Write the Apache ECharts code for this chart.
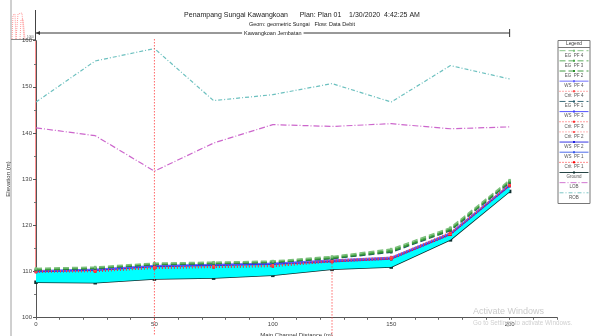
<!DOCTYPE html>
<html>
<head>
<meta charset="utf-8">
<script src="https://cdn.jsdelivr.net/npm/echarts@6/dist/echarts.min.js"></script>
<style>
  html, body { margin: 0; padding: 0; background: #fff; }
  #chart { width: 595px; height: 336px; }
</style>
</head>
<body>
<div id="chart"></div>
<script>
// river stations (main channel distance, m)
var stations = [0, 25, 50, 75, 100, 125, 150, 175, 200];

// elevations (m)
var ground = [107.6, 107.5, 108.3, 108.5, 109.1, 110.4, 110.9, 116.8, 127.3];
var ws1 = [109.85, 110.15, 110.95, 111.2, 111.45, 112.0, 112.6, 117.9, 128.4];
var ws2 = [109.95, 110.25, 111.05, 111.3, 111.55, 112.15, 112.75, 118.05, 128.55];
var ws3 = [110.05, 110.35, 111.15, 111.4, 111.65, 112.3, 112.9, 118.2, 128.7];
var ws4 = [110.15, 110.45, 111.25, 111.5, 111.75, 112.45, 113.05, 118.35, 128.85];
var crit1 = [109.8, 109.9, 110.6, 110.8, 111.0, 112.0, 112.6, 117.9, 128.5];
var crit2 = [109.9, 110.0, 110.7, 110.9, 111.1, 112.15, 112.75, 118.1, 128.65];
var crit3 = [110.0, 110.1, 110.8, 111.0, 111.2, 112.3, 112.9, 118.3, 128.8];
var crit4 = [110.1, 110.2, 110.9, 111.1, 111.3, 112.45, 113.05, 118.5, 128.95];
var eg1 = [110.25, 110.55, 111.4, 111.6, 111.85, 112.7, 114.1, 118.8, 129.2];
var eg2 = [110.35, 110.65, 111.5, 111.7, 111.95, 112.85, 114.3, 119.0, 129.4];
var eg3 = [110.45, 110.75, 111.6, 111.8, 112.05, 113.0, 114.5, 119.2, 129.55];
var eg4 = [110.6, 110.9, 111.75, 111.95, 112.2, 113.2, 114.8, 119.45, 129.75];
var lob = [141.1, 139.4, 131.7, 137.8, 141.8, 141.4, 142.0, 140.9, 141.3];
var rob = [146.7, 155.6, 158.3, 147.0, 148.3, 150.7, 146.7, 154.6, 151.7];

// x positions of the section markers (red verticals)
var bridgeStart = 50;
var bridgeEnd = 125;
var reachLabel = "Kawangkoan Jembatan";

var xLabels = [0, 50, 100, 150, 200];

function pts(arr) {
  return stations.map(function (x, i) { return [x, arr[i]]; });
}

// legend order as in the HEC-RAS plot
var profiles = [
  { name: "EG  PF 4",   data: eg4,   color: "#7cc07c", type: [6, 3], width: 1.5, sym: true },
  { name: "EG  PF 3",   data: eg3,   color: "#4aa64a", type: [6, 3], width: 1.5, sym: true },
  { name: "EG  PF 2",   data: eg2,   color: "#2a8f2a", type: [6, 3], width: 1.5, sym: true },
  { name: "WS  PF 4",   data: ws4,   color: "#6060ff", type: "solid", width: 1, sym: true },
  { name: "Crit  PF 4", data: crit4, color: "#ff4a4a", type: [1, 2], width: 1, sym: true },
  { name: "EG  PF 1",   data: eg1,   color: "#245a6a", type: [6, 3], width: 1.3, sym: true },
  { name: "WS  PF 3",   data: ws3,   color: "#4040ff", type: "solid", width: 1, sym: true },
  { name: "Crit  PF 3", data: crit3, color: "#ff2a2a", type: [1, 2], width: 1, sym: true },
  { name: "Crit  PF 2", data: crit2, color: "#ff6060", type: [1, 2], width: 1, sym: true },
  { name: "WS  PF 2",   data: ws2,   color: "#2020e0", type: "solid", width: 1, sym: true },
  { name: "WS  PF 1",   data: ws1,   color: "#3a5ae8", type: "solid", width: 1, sym: true },
  { name: "Crit  PF 1", data: crit1, color: "#ff0000", type: [1, 2], width: 1, sym: true },
  { name: "Ground",     data: ground, color: "#0d2f2f", type: "solid", width: 1.5, sym: true },
  { name: "LOB",        data: lob,   color: "#cc66cc", type: [6, 2, 1, 2], width: 1.2, sym: false },
  { name: "ROB",        data: rob,   color: "#6cc0bf", type: [4, 2, 1, 2], width: 1.2, sym: false }
];

var chart = echarts.init(document.getElementById("chart"));

var series = [
  // water between ground and the lowest water surface
  {
    type: "custom",
    name: "water",
    data: [[stations[0], ground[0]]],
    silent: true,
    z: 2,
    renderItem: function (params, api) {
      var top = stations.map(function (x, i) { return api.coord([x, ws1[i]]); });
      var bottom = stations.map(function (x, i) { return api.coord([x, ground[i]]); }).reverse();
      return {
        type: "polygon",
        shape: { points: top.concat(bottom) },
        style: { fill: "#00ffff", stroke: null }
      };
    }
  }
];

// lines bottom-up so the energy grade stays on top; ground sits under the water
var drawOrder = [12, 14, 13, 10, 9, 6, 3, 11, 8, 7, 4, 5, 2, 1, 0];
drawOrder.forEach(function (k) {
  var p = profiles[k];
  series.push({
    type: "line",
    name: p.name,
    data: pts(p.data),
    symbol: p.sym ? "rect" : "none",
    symbolSize: p.name === "Ground" ? 3.5 : 2.5,
    showSymbol: p.sym,
    itemStyle: { color: p.color },
    lineStyle: { color: p.color, type: p.type, width: p.width },
    z: p.name === "Ground" ? 1 : 3
  });
});

var labelStyle = { fontSize: 6, color: "#444" };

var option = {
  animation: false,
  textStyle: { fontFamily: "Liberation Sans" },
  grid: { left: 36, right: 38, top: 40.7, bottom: 18.7, outerBoundsMode: "none", containLabel: false },
  xAxis: {
    type: "value", min: 0, max: 220, interval: 10,
    name: "Main Channel Distance (m)", nameLocation: "middle", nameGap: 9,
    nameTextStyle: { fontSize: 6, color: "#333" },
    axisLine: { lineStyle: { color: "#555", width: 1 } },
    axisTick: { length: 2.5, lineStyle: { color: "#666" } },
    axisLabel: Object.assign({ customValues: xLabels, margin: 4 }, labelStyle),
    splitLine: { show: false }
  },
  yAxis: {
    type: "value", min: 100, max: 160, interval: 10,
    name: "Elevation (m)", nameLocation: "middle", nameGap: 19,
    nameTextStyle: { fontSize: 6, color: "#333" },
    axisLine: { show: true, lineStyle: { color: "#555", width: 1 } },
    axisTick: { show: true, length: 3, lineStyle: { color: "#555" } },
    minorTick: { show: true, splitNumber: 2, length: 2, lineStyle: { color: "#777" } },
    axisLabel: Object.assign({ margin: 4 }, labelStyle),
    splitLine: { show: false }
  },
  title: [
    {
      text: "Penampang Sungai Kawangkoan      Plan: Plan 01    1/30/2020  4:42:25 AM",
      left: 302, top: 12, textAlign: "center", padding: 0,
      textStyle: { fontSize: 7, fontWeight: "normal", color: "#222" }
    },
    {
      text: "Geom: geometric Sungai   Flow: Data Debit",
      left: 302, top: 21.5, textAlign: "center", padding: 0,
      textStyle: { fontSize: 5.5, fontWeight: "normal", color: "#222" }
    }
  ],
  series: series
};

chart.setOption(option);

// decorations placed through the chart's own scale
function px(x, y) { return chart.convertToPixel({ xAxisIndex: 0, yAxisIndex: 0 }, [x, y]); }

var g = [];
var pTop0 = px(0, 160), pTop200 = px(200, 160);
var xB1 = px(bridgeStart, 160)[0], xB2 = px(bridgeEnd, 160)[0];
var labelX = px(100, 160)[0];

// window edge
g.push({ type: "line", shape: { x1: 11, y1: 0, x2: 11, y2: 336 }, style: { stroke: "#a0a0a0", lineWidth: 1 } });

// thumbnail of the cross section, top-left
g.push({ type: "line", shape: { x1: 11, y1: 39.5, x2: 36, y2: 39.5 }, style: { stroke: "#888", lineWidth: 1 } });
g.push({ type: "line", shape: { x1: 35.5, y1: 10, x2: 35.5, y2: 40 }, style: { stroke: "#444", lineWidth: 1 } });
g.push({ type: "polyline", shape: { points: [[12, 39], [13, 15], [15, 14], [16, 39]] }, style: { stroke: "#ff8080", lineWidth: 0.8, lineDash: [1, 1], fill: null } });
g.push({ type: "polyline", shape: { points: [[16, 39], [18, 14], [22, 13], [24, 39]] }, style: { stroke: "#ff8080", lineWidth: 0.8, lineDash: [1, 1], fill: null } });
g.push({ type: "polyline", shape: { points: [[20, 39], [21, 20], [23, 19], [25, 39]] }, style: { stroke: "#ff8080", lineWidth: 0.8, lineDash: [1, 1], fill: null } });
g.push({ type: "text", x: 27, y: 36, style: { text: "1060", fontSize: 3, fill: "#666" } });

// reach bracket
g.push({ type: "line", shape: { x1: pTop0[0], y1: 33, x2: pTop200[0], y2: 33 }, style: { stroke: "#333", lineWidth: 1 } });
g.push({ type: "line", shape: { x1: pTop200[0], y1: 29, x2: pTop200[0], y2: 37 }, style: { stroke: "#333", lineWidth: 1 } });
g.push({ type: "polygon", shape: { points: [[pTop0[0], 33], [pTop0[0] + 4, 31], [pTop0[0] + 4, 35]] }, style: { fill: "#333" } });
g.push({
  type: "text", x: labelX, y: 33.5, z: 5,
  style: { text: reachLabel, fontSize: 5.5, fill: "#222", align: "center", verticalAlign: "middle", backgroundColor: "#fff", padding: [1, 2] }
});

// red section markers
var yWater = px(0, ws4[0])[1];
g.push({ type: "line", shape: { x1: pTop0[0], y1: pTop0[1], x2: pTop0[0], y2: yWater }, style: { stroke: "#ff5a5a", lineWidth: 1.3 } });
g.push({ type: "line", z: 10, shape: { x1: xB1, y1: 39, x2: xB1, y2: 336 }, style: { stroke: "#ff4040", lineWidth: 0.8, lineDash: [1.5, 1.5] } });
var yB2 = px(bridgeEnd, 112.4)[1];
g.push({ type: "line", z: 10, shape: { x1: xB2, y1: yB2, x2: xB2, y2: 336 }, style: { stroke: "#ff4040", lineWidth: 0.8, lineDash: [1.5, 1.5] } });

// legend box
var lx = 558, lw = 32, ly = 40.5, rowH = 10.15;
g.push({ type: "rect", shape: { x: lx, y: ly, width: lw, height: 163 }, style: { fill: "#fff", stroke: "#777", lineWidth: 1 } });
g.push({ type: "text", x: lx + lw / 2, y: ly + 3.5, style: { text: "Legend", fontSize: 4.8, fill: "#333", align: "center", verticalAlign: "middle" } });
g.push({ type: "line", shape: { x1: lx, y1: ly + 7, x2: lx + lw, y2: ly + 7 }, style: { stroke: "#777", lineWidth: 1 } });
profiles.forEach(function (p, i) {
  var yy = ly + 10.2 + i * rowH;
  var dash = p.type === "solid" ? null : p.type;
  g.push({ type: "line", shape: { x1: lx + 1.5, y1: yy, x2: lx + lw - 1.5, y2: yy }, style: { stroke: p.color, lineWidth: 0.9, lineDash: dash } });
  if (p.sym) {
    g.push({ type: "rect", shape: { x: lx + lw / 2 - 1, y: yy - 1, width: 2, height: 2 }, style: { fill: p.color } });
  }
  g.push({ type: "text", x: lx + lw / 2, y: yy + 4.6, style: { text: p.name, fontSize: 4.5, fill: "#555", align: "center", verticalAlign: "middle" } });
});

// OS watermark seen on the screenshot
g.push({ type: "text", x: 473, y: 307, z: 100, style: { text: "Activate Windows", fontSize: 9, fill: "#cbcbcb", fontFamily: "Liberation Sans" } });
g.push({ type: "text", x: 473, y: 320, z: 100, style: { text: "Go to Settings to activate Windows.", fontSize: 6.3, fill: "#d0d0d0", fontFamily: "Liberation Sans" } });

chart.setOption({ graphic: g });
</script>
</body>
</html>
